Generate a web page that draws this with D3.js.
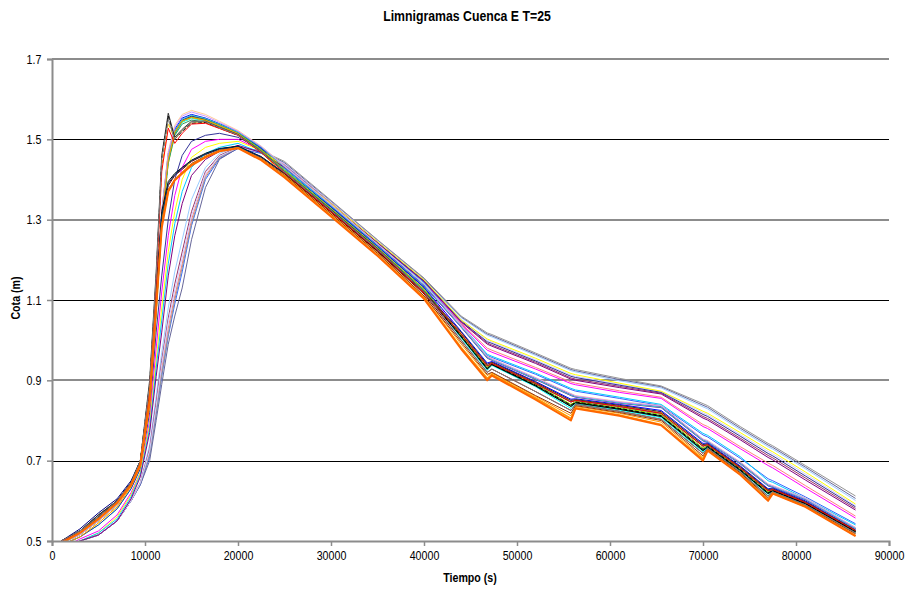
<!DOCTYPE html>
<html>
<head>
<meta charset="utf-8">
<script src="https://cdn.jsdelivr.net/npm/d3@7"></script>
<style>
  body { margin: 0; background: #fff; }
  svg { display: block; }
</style>
</head>
<body>
<div id="chart"></div>
<script>
// Tiempo (s) común a todas las series
const tiempo = [1000, 3000, 5000, 7000, 8500, 9500, 10500, 11200, 11800, 12500, 13200, 14000, 15000, 16500, 18000, 20000, 22500,
  25000, 30000, 35000, 40000, 44000, 46800, 47300, 52000, 55800, 56300, 61000, 65500, 70000, 70500, 74000, 77000, 77500, 81000, 86400];

// Cota (m) de cada limnigrama
const navy1 = [0.50, 0.53, 0.57, 0.605, 0.65, 0.70, 0.85, 1.09, 1.31, 1.46, 1.52, 1.548, 1.558, 1.55, 1.537, 1.518, 1.48,
  1.432, 1.336, 1.237, 1.137, 1.035, 0.958, 0.952, 0.905, 0.865, 0.860, 0.845, 0.835, 0.752, 0.748, 0.695, 0.640, 0.636, 0.605, 0.532];
const magenta1 = [0.495, 0.515, 0.55, 0.59, 0.64, 0.69, 0.84, 1.08, 1.30, 1.45, 1.515, 1.545, 1.555, 1.548, 1.535, 1.515, 1.475,
  1.425, 1.33, 1.232, 1.13, 1.02, 0.940, 0.945, 0.895, 0.850, 0.852, 0.838, 0.822, 0.740, 0.742, 0.685, 0.628, 0.630, 0.598, 0.527];
const amarillo1 = [0.49, 0.51, 0.545, 0.585, 0.635, 0.685, 0.83, 1.06, 1.28, 1.44, 1.51, 1.542, 1.553, 1.547, 1.534, 1.514, 1.474,
  1.424, 1.328, 1.23, 1.127, 1.012, 0.933, 0.941, 0.89, 0.84, 0.847, 0.832, 0.815, 0.731, 0.738, 0.68, 0.622, 0.627, 0.595, 0.525];
const cian1 = [0.49, 0.51, 0.54, 0.58, 0.63, 0.68, 0.83, 1.07, 1.29, 1.445, 1.512, 1.543, 1.552, 1.546, 1.533, 1.513, 1.472,
  1.422, 1.326, 1.228, 1.124, 1.005, 0.925, 0.937, 0.884, 0.83, 0.842, 0.826, 0.807, 0.722, 0.733, 0.675, 0.616, 0.624, 0.592, 0.522];
const purpura1 = [0.50, 0.52, 0.56, 0.60, 0.645, 0.695, 0.85, 1.09, 1.31, 1.455, 1.518, 1.547, 1.557, 1.55, 1.537, 1.517, 1.479,
  1.43, 1.334, 1.236, 1.135, 1.032, 0.955, 0.95, 0.902, 0.862, 0.858, 0.843, 0.832, 0.749, 0.746, 0.692, 0.637, 0.634, 0.603, 0.531];
const granate1 = [0.50, 0.525, 0.56, 0.60, 0.645, 0.695, 0.86, 1.10, 1.30, 1.385, 1.41, 1.425, 1.445, 1.462, 1.476, 1.482, 1.455,
  1.413, 1.318, 1.22, 1.115, 1.00, 0.920, 0.928, 0.872, 0.825, 0.840, 0.823, 0.803, 0.718, 0.731, 0.672, 0.612, 0.622, 0.590, 0.520];
const verdeazul1 = [0.495, 0.52, 0.555, 0.595, 0.64, 0.69, 0.84, 1.08, 1.30, 1.45, 1.515, 1.546, 1.556, 1.549, 1.536, 1.516, 1.477,
  1.427, 1.331, 1.233, 1.131, 1.01, 0.930, 0.940, 0.888, 0.838, 0.846, 0.830, 0.812, 0.728, 0.736, 0.678, 0.620, 0.626, 0.594, 0.524];
const azul1 = [0.50, 0.52, 0.56, 0.60, 0.645, 0.695, 0.85, 1.10, 1.32, 1.465, 1.525, 1.553, 1.562, 1.553, 1.539, 1.519, 1.478,
  1.428, 1.332, 1.234, 1.132, 1.022, 0.943, 0.947, 0.897, 0.853, 0.854, 0.84, 0.825, 0.743, 0.744, 0.687, 0.63, 0.632, 0.6, 0.528];
const celeste1 = [0.47, 0.50, 0.515, 0.55, 0.60, 0.645, 0.74, 0.86, 0.97, 1.08, 1.17, 1.25, 1.35, 1.43, 1.465, 1.482, 1.47,
  1.44, 1.345, 1.248, 1.152, 1.056, 1.012, 1.008, 0.962, 0.924, 0.921, 0.899, 0.881, 0.834, 0.829, 0.777, 0.735, 0.729, 0.680, 0.601];
const ciruela1 = [0.47, 0.50, 0.515, 0.55, 0.60, 0.645, 0.73, 0.845, 0.95, 1.055, 1.14, 1.22, 1.32, 1.42, 1.46, 1.48, 1.468,
  1.438, 1.343, 1.246, 1.15, 1.046, 0.993, 0.988, 0.945, 0.906, 0.903, 0.885, 0.868, 0.81, 0.805, 0.756, 0.713, 0.707, 0.657, 0.581];
const rosa1 = [0.47, 0.50, 0.515, 0.55, 0.60, 0.645, 0.72, 0.83, 0.93, 1.03, 1.11, 1.19, 1.30, 1.41, 1.455, 1.478, 1.466,
  1.436, 1.341, 1.244, 1.148, 1.042, 0.98, 0.975, 0.932, 0.896, 0.893, 0.874, 0.858, 0.79, 0.785, 0.735, 0.694, 0.688, 0.638, 0.562];
const azulmedio1 = [0.47, 0.50, 0.515, 0.55, 0.60, 0.64, 0.71, 0.815, 0.91, 1.01, 1.09, 1.17, 1.285, 1.40, 1.452, 1.477, 1.465,
  1.435, 1.34, 1.243, 1.146, 1.036, 0.962, 0.957, 0.915, 0.877, 0.873, 0.855, 0.837, 0.764, 0.759, 0.706, 0.655, 0.65, 0.61, 0.543];
const pizarra1 = [0.47, 0.50, 0.515, 0.55, 0.60, 0.64, 0.70, 0.80, 0.89, 0.99, 1.06, 1.13, 1.25, 1.38, 1.45, 1.478, 1.471,
  1.442, 1.346, 1.249, 1.153, 1.058, 1.015, 1.011, 0.965, 0.927, 0.924, 0.902, 0.884, 0.838, 0.833, 0.781, 0.739, 0.733, 0.684, 0.606];
const gris1 = [0.47, 0.50, 0.515, 0.55, 0.60, 0.645, 0.715, 0.82, 0.915, 1.015, 1.10, 1.18, 1.29, 1.405, 1.455, 1.48, 1.472,
  1.445, 1.348, 1.25, 1.155, 1.06, 1.018, 1.014, 0.968, 0.930, 0.927, 0.905, 0.886, 0.842, 0.837, 0.785, 0.743, 0.737, 0.688, 0.612];
const lavanda1 = [0.47, 0.50, 0.515, 0.55, 0.60, 0.645, 0.725, 0.835, 0.94, 1.045, 1.125, 1.205, 1.31, 1.415, 1.458, 1.479, 1.468,
  1.439, 1.344, 1.247, 1.151, 1.052, 1.0, 0.995, 0.951, 0.913, 0.91, 0.89, 0.872, 0.819, 0.814, 0.765, 0.723, 0.717, 0.667, 0.588];
const indigo2 = [0.49, 0.51, 0.54, 0.58, 0.63, 0.68, 0.82, 1.02, 1.16, 1.30, 1.40, 1.46, 1.495, 1.51, 1.515, 1.505, 1.475,
  1.43, 1.338, 1.243, 1.148, 1.048, 0.996, 0.992, 0.948, 0.910, 0.907, 0.888, 0.870, 0.815, 0.810, 0.761, 0.718, 0.712, 0.662, 0.585];
const magenta2 = [0.48, 0.505, 0.525, 0.565, 0.62, 0.67, 0.80, 0.98, 1.12, 1.26, 1.36, 1.43, 1.475, 1.495, 1.50, 1.50, 1.472,
  1.428, 1.336, 1.24, 1.145, 1.04, 0.975, 0.970, 0.928, 0.892, 0.889, 0.870, 0.855, 0.785, 0.780, 0.730, 0.688, 0.682, 0.632, 0.557];
const amarillo2 = [0.48, 0.50, 0.52, 0.56, 0.615, 0.67, 0.79, 0.95, 1.08, 1.22, 1.32, 1.40, 1.455, 1.48, 1.49, 1.495, 1.472,
  1.432, 1.34, 1.245, 1.15, 1.05, 1.003, 0.998, 0.955, 0.917, 0.914, 0.893, 0.873, 0.823, 0.818, 0.770, 0.728, 0.722, 0.672, 0.592];
const turquesa2 = [0.475, 0.50, 0.52, 0.555, 0.61, 0.665, 0.78, 0.93, 1.05, 1.19, 1.29, 1.37, 1.43, 1.465, 1.48, 1.49, 1.466,
  1.427, 1.335, 1.24, 1.143, 1.038, 0.965, 0.960, 0.918, 0.880, 0.876, 0.858, 0.840, 0.768, 0.763, 0.710, 0.650, 0.646, 0.606, 0.540];
const purpura2 = [0.475, 0.50, 0.515, 0.55, 0.605, 0.66, 0.77, 0.91, 1.02, 1.16, 1.26, 1.34, 1.41, 1.45, 1.47, 1.485, 1.467,
  1.43, 1.337, 1.242, 1.146, 1.045, 0.990, 0.985, 0.942, 0.903, 0.900, 0.882, 0.866, 0.806, 0.801, 0.752, 0.708, 0.702, 0.652, 0.577];
const verde1 = [0.495, 0.515, 0.55, 0.59, 0.64, 0.69, 0.84, 1.07, 1.29, 1.44, 1.51, 1.538, 1.548, 1.543, 1.532, 1.513, 1.473,
  1.423, 1.327, 1.229, 1.126, 1.008, 0.928, 0.939, 0.886, 0.835, 0.844, 0.828, 0.81, 0.725, 0.734, 0.676, 0.618, 0.625, 0.593, 0.523];
const durazno1 = [0.495, 0.515, 0.55, 0.59, 0.64, 0.69, 0.84, 1.09, 1.32, 1.47, 1.535, 1.562, 1.572, 1.562, 1.545, 1.522, 1.483,
  1.434, 1.338, 1.24, 1.14, 1.038, 0.96, 0.954, 0.907, 0.867, 0.862, 0.847, 0.837, 0.754, 0.75, 0.697, 0.642, 0.638, 0.607, 0.534];
const lima1 = [0.495, 0.515, 0.55, 0.59, 0.64, 0.69, 0.845, 1.085, 1.305, 1.452, 1.517, 1.546, 1.555, 1.548, 1.535, 1.515, 1.474,
  1.424, 1.328, 1.23, 1.127, 1.012, 0.933, 0.941, 0.89, 0.84, 0.847, 0.832, 0.815, 0.731, 0.738, 0.68, 0.622, 0.627, 0.595, 0.525];
const aguamarina1 = [0.495, 0.52, 0.555, 0.595, 0.64, 0.69, 0.845, 1.09, 1.31, 1.458, 1.522, 1.55, 1.56, 1.552, 1.538, 1.518, 1.48,
  1.431, 1.335, 1.236, 1.136, 1.033, 0.956, 0.951, 0.903, 0.863, 0.859, 0.844, 0.833, 0.75, 0.747, 0.693, 0.638, 0.635, 0.604, 0.531];
const oro1 = [0.50, 0.525, 0.56, 0.60, 0.645, 0.70, 0.88, 1.15, 1.43, 1.54, 1.50, 1.522, 1.542, 1.543, 1.529, 1.511, 1.47,
  1.42, 1.324, 1.227, 1.123, 1.018, 0.938, 0.944, 0.894, 0.848, 0.851, 0.837, 0.82, 0.738, 0.741, 0.684, 0.627, 0.629, 0.597, 0.527];
const malva1 = [0.495, 0.515, 0.55, 0.59, 0.64, 0.69, 0.84, 1.085, 1.315, 1.465, 1.53, 1.558, 1.568, 1.558, 1.542, 1.52, 1.482,
  1.433, 1.337, 1.239, 1.139, 1.036, 0.959, 0.953, 0.906, 0.866, 0.861, 0.846, 0.836, 0.753, 0.749, 0.696, 0.641, 0.637, 0.606, 0.533];
const naranja1 = [0.49, 0.51, 0.545, 0.585, 0.635, 0.685, 0.835, 1.075, 1.30, 1.45, 1.518, 1.546, 1.554, 1.547, 1.534, 1.514, 1.467,
  1.412, 1.315, 1.218, 1.11, 0.99, 0.912, 0.918, 0.86, 0.812, 0.835, 0.818, 0.796, 0.708, 0.728, 0.668, 0.605, 0.62, 0.587, 0.515];
const negro1 = [0.50, 0.525, 0.565, 0.60, 0.645, 0.70, 0.87, 1.12, 1.32, 1.395, 1.415, 1.43, 1.448, 1.465, 1.477, 1.483, 1.457,
  1.415, 1.32, 1.222, 1.118, 1.008, 0.928, 0.939, 0.886, 0.835, 0.844, 0.828, 0.81, 0.725, 0.734, 0.676, 0.618, 0.625, 0.593, 0.523];
const marron1 = [0.50, 0.52, 0.56, 0.60, 0.645, 0.695, 0.85, 1.09, 1.29, 1.375, 1.40, 1.418, 1.44, 1.458, 1.473, 1.48, 1.452,
  1.41, 1.314, 1.216, 1.11, 0.995, 0.915, 0.92, 0.862, 0.818, 0.837, 0.82, 0.8, 0.712, 0.729, 0.67, 0.608, 0.62, 0.588, 0.518];
const marino1 = [0.50, 0.525, 0.56, 0.60, 0.645, 0.695, 0.86, 1.11, 1.31, 1.39, 1.412, 1.428, 1.447, 1.463, 1.476, 1.482, 1.456,
  1.416, 1.322, 1.224, 1.12, 1.015, 0.936, 0.942, 0.892, 0.846, 0.85, 0.835, 0.818, 0.736, 0.74, 0.682, 0.625, 0.628, 0.596, 0.526];
const oscuro1 = [0.50, 0.525, 0.565, 0.60, 0.645, 0.70, 0.90, 1.17, 1.46, 1.565, 1.505, 1.525, 1.545, 1.545, 1.53, 1.512, 1.47,
  1.42, 1.325, 1.228, 1.122, 1.02, 0.940, 0.945, 0.895, 0.850, 0.852, 0.838, 0.822, 0.740, 0.742, 0.685, 0.628, 0.630, 0.598, 0.527];
const negro2 = [0.50, 0.52, 0.56, 0.60, 0.645, 0.70, 0.89, 1.15, 1.45, 1.558, 1.50, 1.52, 1.54, 1.542, 1.528, 1.51, 1.468,
  1.418, 1.322, 1.225, 1.12, 1.01, 0.930, 0.940, 0.888, 0.838, 0.846, 0.830, 0.812, 0.728, 0.736, 0.678, 0.620, 0.626, 0.594, 0.524];
const rojo1 = [0.50, 0.52, 0.555, 0.595, 0.64, 0.695, 0.88, 1.14, 1.42, 1.528, 1.49, 1.515, 1.538, 1.54, 1.527, 1.51, 1.467,
  1.417, 1.32, 1.224, 1.118, 1.015, 0.936, 0.942, 0.892, 0.846, 0.85, 0.835, 0.818, 0.736, 0.74, 0.682, 0.625, 0.628, 0.596, 0.526];
const gris2 = [0.50, 0.525, 0.56, 0.60, 0.645, 0.70, 0.89, 1.16, 1.45, 1.55, 1.50, 1.523, 1.543, 1.544, 1.529, 1.511, 1.469,
  1.419, 1.323, 1.226, 1.121, 1.00, 0.920, 0.928, 0.872, 0.825, 0.840, 0.823, 0.803, 0.718, 0.731, 0.672, 0.612, 0.622, 0.590, 0.520];
const naranja2 = [0.495, 0.52, 0.555, 0.595, 0.64, 0.69, 0.85, 1.085, 1.285, 1.372, 1.40, 1.417, 1.437, 1.457, 1.471, 1.479, 1.45,
  1.407, 1.31, 1.212, 1.106, 0.982, 0.905, 0.915, 0.856, 0.805, 0.832, 0.814, 0.79, 0.704, 0.726, 0.666, 0.602, 0.619, 0.586, 0.513];
const naranja3 = [0.495, 0.52, 0.555, 0.595, 0.64, 0.69, 0.85, 1.08, 1.28, 1.37, 1.398, 1.415, 1.435, 1.455, 1.47, 1.478, 1.448,
  1.405, 1.308, 1.21, 1.103, 0.978, 0.900, 0.912, 0.852, 0.800, 0.830, 0.812, 0.788, 0.700, 0.725, 0.665, 0.600, 0.618, 0.585, 0.512];

const series = [navy1, magenta1, amarillo1, cian1, purpura1, granate1, verdeazul1, azul1, celeste1, ciruela1, rosa1,
  azulmedio1, pizarra1, gris1, lavanda1, indigo2, magenta2, amarillo2, turquesa2, purpura2, verde1, durazno1, lima1,
  aguamarina1, oro1, malva1, naranja1, negro1, marron1, marino1, oscuro1, negro2, rojo1, gris2, naranja2, naranja3];

// Estilo de cada serie (paleta de Excel)
const colores = ["#000080", "#FF00FF", "#FFFF00", "#00FFFF", "#800080", "#800000", "#008080", "#0000FF", "#99CCFF", "#993366", "#FF8080",
  "#3366FF", "#666699", "#969696", "#CCCCFF", "#333399", "#FF00FF", "#FFFF00", "#00CCFF", "#800080", "#339966", "#FFCC99", "#99CC00",
  "#33CCCC", "#FFCC00", "#CC99FF", "#FF9900", "#000000", "#993300", "#003366", "#333333", "#000000", "#FF0000", "#808080", "#FF9900", "#FF6600"];
const guiones = [null, "4,2", "4,2", null, null, null, null, null, null, null, null, null, null, null, null, null, null, null, null, null,
  null, null, null, null, "4,2", null, null, null, null, null, null, "4,2", null, null, null, null];
const grosores = [1, 1, 1, 1, 1, 1, 1, 1, 1, 1, 1, 1, 1, 1, 1, 1, 1, 1, 1, 1, 1, 1, 1, 1, 1, 1, 1, 1, 1, 1, 1, 1, 1, 1, 1.5, 2];

const ticksY = [0.5, 0.7, 0.9, 1.1, 1.3, 1.5, 1.7];
const ticksX = [0, 10000, 20000, 30000, 40000, 50000, 60000, 70000, 80000, 90000];

const width = 908, height = 590;
const plotLeft = 52, plotRight = 889, plotTop = 59, plotBottom = 541;
const squeeze = 0.82; // texto angosto como en Excel

const x = d3.scaleLinear().domain([0, 90000]).range([plotLeft, plotRight]);
const y = d3.scaleLinear().domain([0.5, 1.7]).range([plotBottom, plotTop]);

const svg = d3.select("#chart").append("svg")
  .attr("width", width).attr("height", height)
  .style("font-family", "'Liberation Sans', Arial, sans-serif");

svg.append("defs").append("clipPath").attr("id", "plot")
  .append("rect").attr("x", plotLeft).attr("y", plotTop)
  .attr("width", plotRight - plotLeft).attr("height", plotBottom - plotTop);

// Líneas de división
svg.append("g").selectAll("line")
  .data(ticksY.slice(1))
  .join("line")
  .attr("x1", plotLeft).attr("x2", plotRight)
  .attr("y1", (d, i) => i % 2 === 0 ? Math.round(y(d)) + 0.5 : Math.round(y(d)))
  .attr("y2", (d, i) => i % 2 === 0 ? Math.round(y(d)) + 0.5 : Math.round(y(d)))
  .attr("stroke", (d, i) => i % 2 === 0 ? "#000" : "#8c8c8c")
  .attr("stroke-width", (d, i) => i % 2 === 0 ? 1 : 2);

// Series (segmentos rectos, como Excel)
const line = d3.line()
  .x((d, i) => x(tiempo[i]))
  .y(d => y(d));

svg.append("g").attr("clip-path", "url(#plot)")
  .selectAll("path")
  .data(series)
  .join("path")
  .attr("fill", "none")
  .attr("stroke", (d, i) => colores[i])
  .attr("stroke-width", (d, i) => grosores[i])
  .attr("stroke-dasharray", (d, i) => guiones[i])
  .attr("stroke-linejoin", "round")
  .attr("d", line);

// Ejes
const axisColor = "#8c8c8c";
const gx = svg.append("g").attr("transform", `translate(0,${plotBottom})`)
  .call(d3.axisBottom(x).tickValues(ticksX).tickSize(5).tickPadding(5).tickFormat(d3.format("d")));
const gy = svg.append("g").attr("transform", `translate(${plotLeft},0)`)
  .call(d3.axisLeft(y).tickValues(ticksY).tickSize(5).tickPadding(6).tickFormat(d3.format(".1f")));

[gx, gy].forEach(g => {
  g.select(".domain").attr("stroke", axisColor).attr("stroke-width", 2);
  g.selectAll(".tick line").attr("stroke", axisColor).attr("stroke-width", 1.5);
  g.selectAll(".tick text").attr("fill", "#000").style("font-size", "13px")
    .style("font-family", "'Liberation Sans', Arial, sans-serif");
});
gx.selectAll(".tick text").attr("transform", `scale(${squeeze},1)`);
gy.selectAll(".tick text").attr("x", -13).attr("transform", `scale(${squeeze},1)`);

// Títulos
function texto(tx, ty, t, size, rot) {
  svg.append("text")
    .attr("transform", `translate(${tx},${ty}) rotate(${rot || 0}) scale(${squeeze},1)`)
    .attr("text-anchor", "middle")
    .attr("dominant-baseline", "central")
    .style("font-size", size + "px")
    .style("font-weight", "bold")
    .text(t);
}
texto(467, 16, "Limnigramas Cuenca E T=25", 15);
texto(470, 578, "Tiempo (s)", 13);
texto(16, 298, "Cota (m)", 13, -90);
</script>
</body>
</html>
